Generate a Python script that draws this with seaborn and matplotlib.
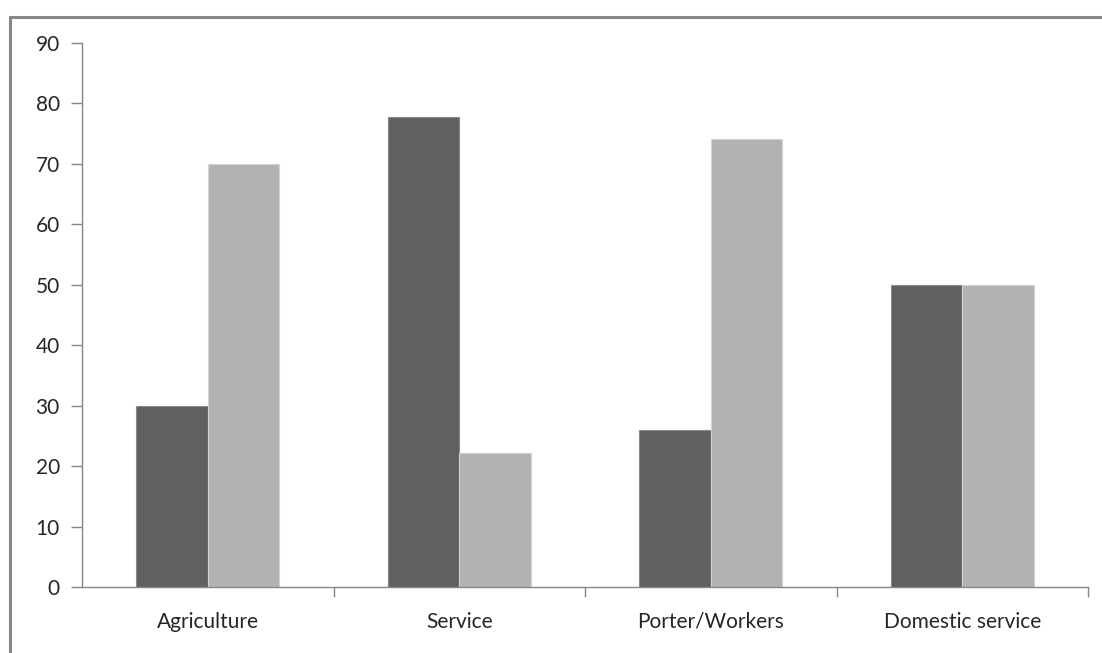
import matplotlib
matplotlib.use("Agg")
import matplotlib.pyplot as plt
import seaborn as sns
import pandas as pd
from matplotlib.patches import Rectangle

categories = ["Agriculture", "Service", "Porter/Workers", "Domestic service"]
series_names = ["Series 1", "Series 2"]
series1 = [30.0, 77.8, 25.9, 50.0]
series2 = [70.0, 22.2, 74.1, 50.0]
yticks = [0, 10, 20, 30, 40, 50, 60, 70, 80, 90]

df = pd.DataFrame({
    "category": categories * 2,
    "series": [series_names[0]] * 4 + [series_names[1]] * 4,
    "value": series1 + series2,
})

sns.set_style("white")
plt.rcParams["font.family"] = ["Lato", "DejaVu Sans"]

fig = plt.figure(figsize=(11.02, 6.53), dpi=100)
W, H = 1102, 653
ax = fig.add_axes([82 / W, 1 - 587 / H, (1088 - 82) / W, (587 - 43) / H])

sns.barplot(data=df, x="category", y="value", hue="series", order=categories,
            hue_order=series_names, palette=["#606060", "#b2b2b2"],
            width=0.57, gap=0, ax=ax, legend=False, errorbar=None,
            saturation=1, linewidth=0)

for p in ax.patches:
    fc = p.get_facecolor()
    p.set_edgecolor("#d4d4d4" if fc[0] > 0.5 else "#8a8a8a")
    p.set_linewidth(0.8)

ax.set_xlim(-0.5, 3.5)
ax.set_ylim(0, 90)
ax.set_yticks(yticks)
ax.set_yticklabels([str(v) for v in yticks])
ax.set_xlabel("")
ax.set_ylabel("")

axis_col = "#868686"
for side in ["top", "right"]:
    ax.spines[side].set_visible(False)
for side in ["left", "bottom"]:
    ax.spines[side].set_color(axis_col)
    ax.spines[side].set_linewidth(1.0)

ax.tick_params(axis="y", which="major", length=8, width=1, color=axis_col,
               labelsize=15, labelcolor="#262626", pad=8, direction="out", left=True)
ax.set_xticks([0, 1, 2, 3])
ax.set_xticklabels(categories)
ax.tick_params(axis="x", which="major", length=0, labelsize=15,
               labelcolor="#262626", pad=18, bottom=True)
ax.set_xticks([0.5, 1.5, 2.5, 3.5], minor=True)
ax.tick_params(axis="x", which="minor", length=7, width=1, color=axis_col,
               direction="out", bottom=True)

frame = Rectangle((10 / W, -0.2), 1.5, 1 - 16.5 / H + 0.2, transform=fig.transFigure,
                  fill=False, edgecolor="#888888", linewidth=2.2, clip_on=False)
fig.patches.append(frame)

fig.savefig("out.png", dpi=100, facecolor="white")
